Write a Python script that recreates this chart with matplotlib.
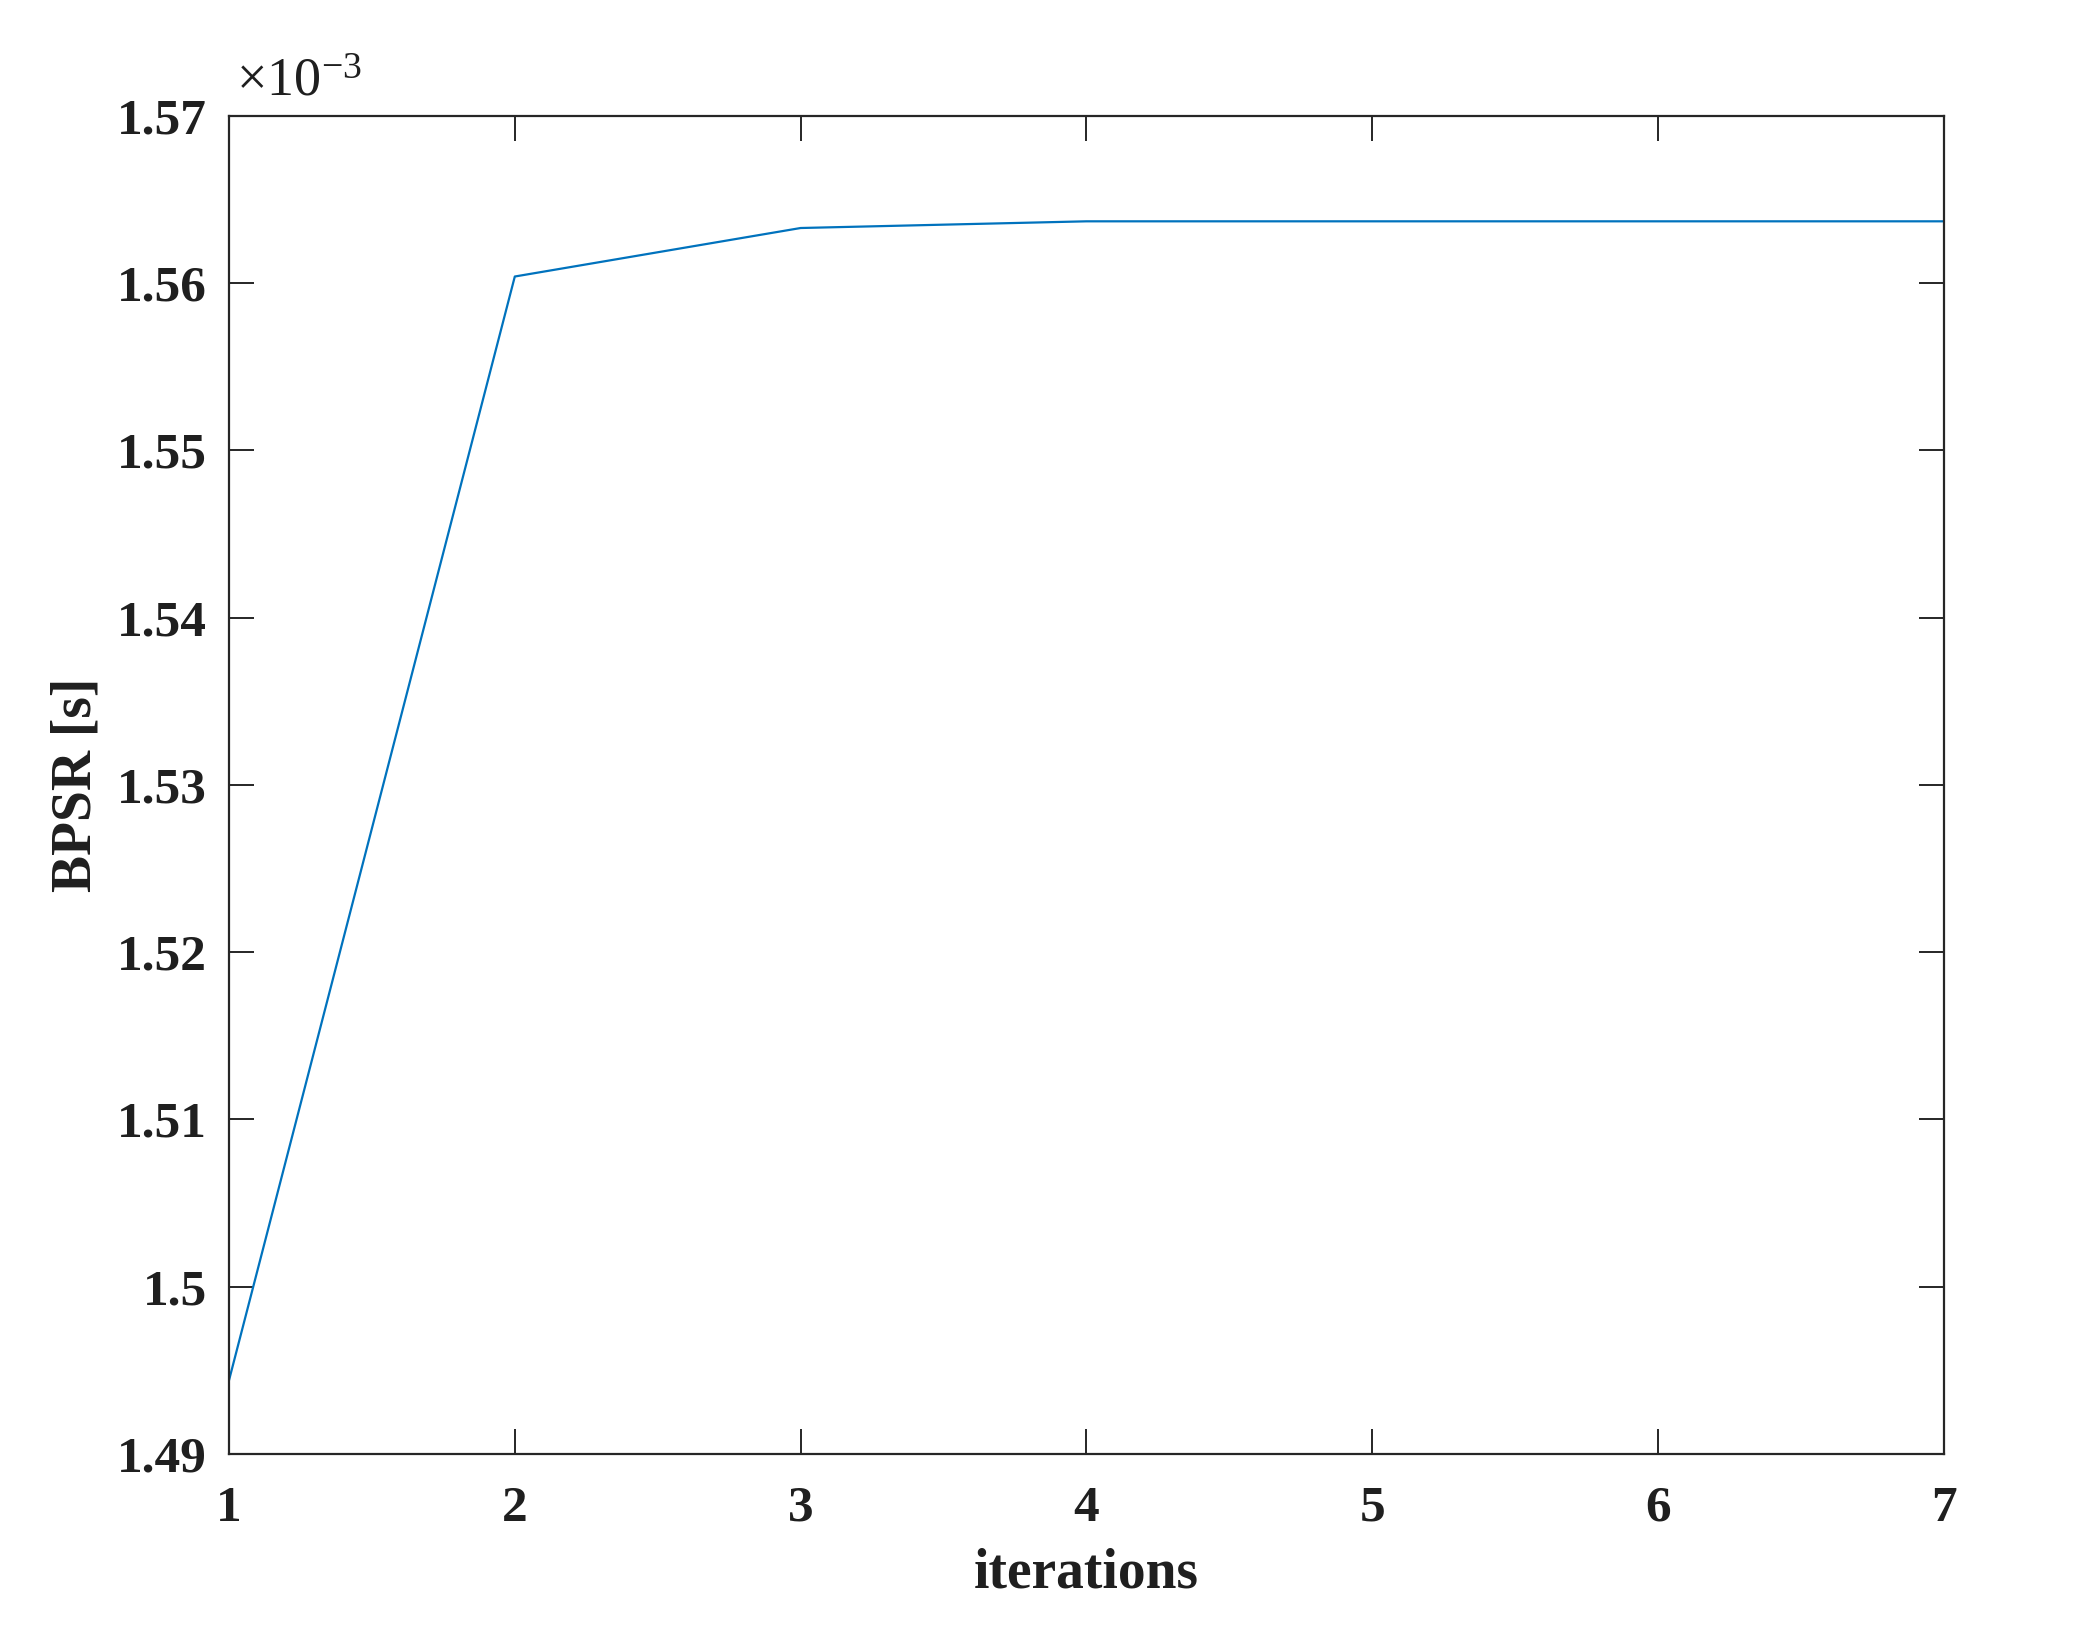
import matplotlib
matplotlib.use("Agg")
import matplotlib.pyplot as plt
from matplotlib.ticker import FuncFormatter

iterations = [1, 2, 3, 4, 5, 6, 7]
bpsr = [1.4944e-3, 1.5604e-3, 1.5633e-3, 1.5637e-3, 1.5637e-3, 1.5637e-3, 1.5637e-3]
xticks = [1, 2, 3, 4, 5, 6, 7]
yticks = [1.49e-3, 1.50e-3, 1.51e-3, 1.52e-3, 1.53e-3, 1.54e-3, 1.55e-3, 1.56e-3, 1.57e-3]

plt.rcParams['font.family'] = ['Liberation Serif', 'DejaVu Serif']
plt.rcParams['mathtext.fontset'] = 'custom'
plt.rcParams['mathtext.rm'] = 'Liberation Serif'
plt.rcParams['mathtext.it'] = 'Liberation Serif:italic'
plt.rcParams['mathtext.bf'] = 'Liberation Serif:bold'

axcol = (0.15, 0.15, 0.15)
txtcol = (0.12, 0.12, 0.12)
fig = plt.figure(figsize=(20.76, 16.47), dpi=100)
ax = fig.add_axes([0.1103, 0.1172, 0.9364 - 0.1103, 0.9296 - 0.1172])
ax.plot(iterations, bpsr, color=(0, 0.447, 0.741), lw=1.6)
ax.set_xlim(1, 7)
ax.set_ylim(1.49e-3, 1.57e-3)
ax.set_xticks(xticks)
ax.set_yticks(yticks)
ax.yaxis.set_major_formatter(FuncFormatter(lambda v, p: f"{v*1e3:g}"))
for s in ax.spines.values():
    s.set_color(axcol)
    s.set_linewidth(1.6)
ax.tick_params(direction='in', length=18, width=1.4, color=axcol,
               top=True, right=True, labelsize=37, labelcolor=txtcol)
ax.tick_params(axis='y', pad=16)
ax.tick_params(axis='x', pad=23)
for lab in ax.get_xticklabels() + ax.get_yticklabels():
    lab.set_fontweight('bold')
ax.set_xlabel('iterations', fontsize=40, fontweight='bold', color=txtcol, labelpad=11)
ax.set_ylabel('BPSR [s]', fontsize=40, fontweight='bold', color=txtcol, labelpad=10)
ax.text(0.004, 1.006, r'$\times10^{-3}$', transform=ax.transAxes, fontsize=39,
        ha='left', va='bottom', color=txtcol)
fig.savefig('out.png', dpi=100, facecolor='white')
